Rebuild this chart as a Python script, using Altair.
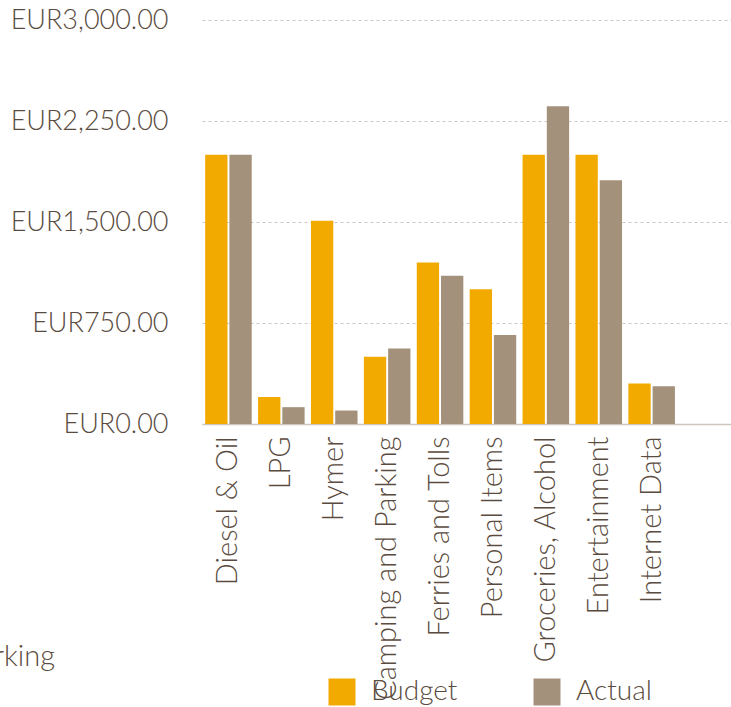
import altair as alt
import pandas as pd

categories = ["Diesel & Oil", "LPG", "Hymer", "Camping and Parking", "Ferries and Tolls",
              "Personal Items", "Groceries, Alcohol", "Entertainment", "Internet Data"]
budget = [2000, 200, 1510, 500, 1200, 1000, 2000, 2000, 300]
actual = [2000, 125, 100, 560, 1100, 660, 2360, 1810, 280]
series = ["Budget", "Actual"]
colors = ["#F2A900", "#A4917B"]
y_ticks = [0, 750, 1500, 2250, 3000]

rows = []
for c, b, a in zip(categories, budget, actual):
    rows.append({"category": c, "series": "Budget", "value": b})
    rows.append({"category": c, "series": "Actual", "value": a})
df = pd.DataFrame(rows)

FONT = "Lato"
TXT = "#5A4B40"

bars = alt.Chart(df).mark_bar().encode(
    x=alt.X("category:N", scale=alt.Scale(domain=categories + [" "], paddingInner=0.12, paddingOuter=0.06),
            axis=alt.Axis(title=None, labelAngle=-90, labelFontSize=29, labelFont=FONT, labelColor=TXT,
                          labelFontWeight=300,
                          labelPadding=12, ticks=False, domainColor="#CDC6BC", domainWidth=1.5,
                          labelLimit=400, labelOverlap=False)),
    xOffset=alt.XOffset("series:N", sort=series, scale=alt.Scale(paddingInner=0.08)),
    y=alt.Y("value:Q", scale=alt.Scale(domain=[0, 3000]),
            axis=alt.Axis(title=None, values=y_ticks, labelExpr="'EUR' + format(datum.value, ',.2f')",
                          labelFontSize=27, labelFont=FONT, labelColor=TXT, labelPadding=34,
                          labelFontWeight=300,
                          ticks=False, domain=False, grid=True, gridColor="#CFC8C0",
                          gridDash=[3, 3], gridWidth=1.2)),
    color=alt.Color("series:N", scale=alt.Scale(domain=series, range=colors),
                    legend=alt.Legend(title=None, orient="none", legendX=126, legendY=658,
                                      direction="horizontal", symbolType="square", symbolSize=729,
                                      symbolStrokeWidth=0, symbolOpacity=1,
                                      labelFontSize=28, labelFont=FONT, labelColor=TXT,
                                      labelFontWeight=300,
                                      labelOffset=15, columnPadding=75)),
)

ghost_df = pd.DataFrame({"t": ["Camping and Parking"]})
ghost = alt.Chart(ghost_df).mark_text(align="right", baseline="alphabetic", fontSize=29,
                                      font=FONT, fontWeight=300, color=TXT).encode(
    text="t:N", x=alt.value(-147), y=alt.value(646))

chart = alt.layer(bars, ghost).properties(
    width=529, height=404,
    autosize=alt.AutoSizeParams(type="none"),
    padding={"left": 202, "top": 20, "right": 0, "bottom": 283},
).configure_view(stroke=None)

chart.save("out.html", embed_options={"renderer": "svg", "actions": False})
